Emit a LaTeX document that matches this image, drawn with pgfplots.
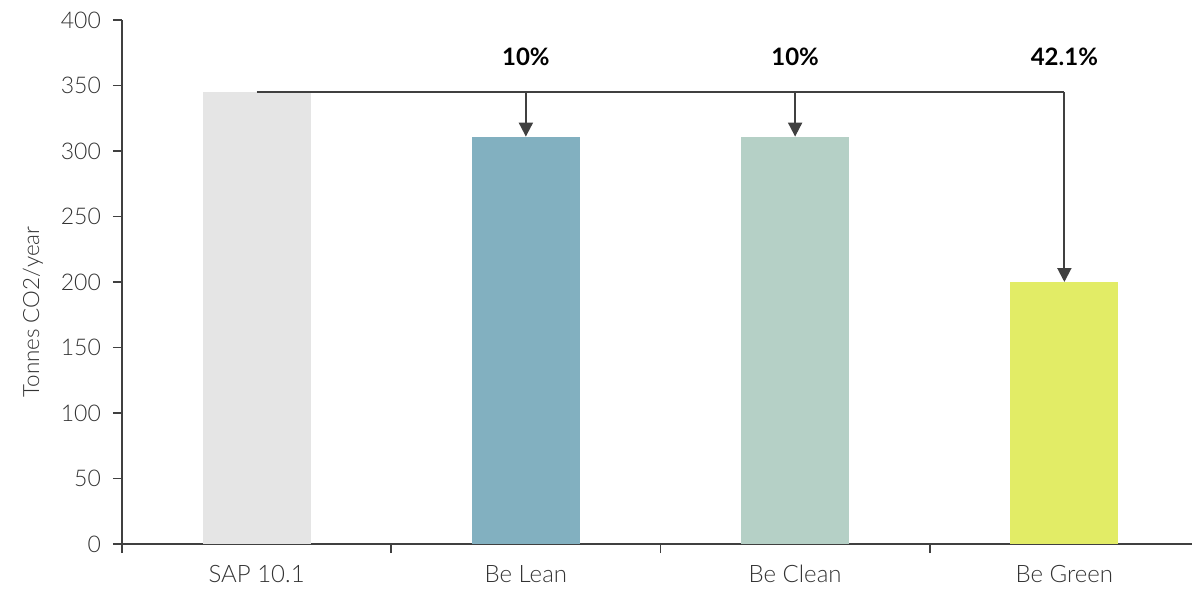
\documentclass[border=0pt]{standalone}
\usepackage{fontspec}
\setmainfont{Lato}[UprightFont={* Light}, BoldFont={* Bold}]
\usepackage{pgfplots}
\pgfplotsset{compat=1.18}
\usetikzlibrary{arrows.meta}

\definecolor{axiscol}{HTML}{404040}
\definecolor{textcol}{HTML}{333333}
\definecolor{sapgrey}{HTML}{E5E5E5}
\definecolor{leanblue}{HTML}{82B0C0}
\definecolor{cleangreen}{HTML}{B5D0C6}
\definecolor{greenyellow}{HTML}{E2EC66}

\begin{document}
\begin{tikzpicture}
\begin{axis}[
    scale only axis,
    width=538.5pt, height=262pt,
    xmin=0.5, xmax=4.5,
    ymin=0, ymax=400,
    ytick={0,50,...,400},
    xtick={0.5,1.5,2.5,3.5,4.5},
    xticklabels={SAP 10.1,Be Lean,Be Clean,Be Green},
    x tick label as interval,
    axis lines*=left,
    axis line style={axiscol, line width=0.9pt},
    tick align=outside,
    major tick length=4.5pt,
    tick style={axiscol, line width=0.9pt},
    xticklabel style={font=\fontsize{12}{14}\selectfont, text=textcol,
        text height=8.5pt, text depth=2pt, yshift=-2.5pt},
    yticklabel style={font=\fontsize{11.5}{13}\selectfont, text=textcol, xshift=-2.5pt},
    /pgf/number format/assume math mode=true,
    ylabel={Tonnes CO2/year},
    ylabel style={font=\fontsize{11.2}{13}\selectfont, text=textcol,
        at={(axis description cs:0,0.5)}, anchor=center, yshift=44.5pt, xshift=-15pt},
    ybar, bar width=54pt,
    clip=false,
]
\addplot[fill=sapgrey, draw=none, bar shift=0pt] coordinates {(1,345)};
\addplot[fill=leanblue, draw=none, bar shift=0pt] coordinates {(2,311)};
\addplot[fill=cleangreen, draw=none, bar shift=0pt] coordinates {(3,311)};
\addplot[fill=greenyellow, draw=none, bar shift=0pt] coordinates {(4,200)};

\draw[axiscol, line width=0.9pt] ([xshift=-3.5pt]axis cs:0.5,0) -- (axis cs:0.5,0);
\draw[axiscol, line width=1pt] (axis cs:1,345) -- (axis cs:4,345);
\draw[axiscol, line width=1pt, -{Triangle[width=7pt,length=7pt]}] (axis cs:2,345) -- (axis cs:2,311);
\draw[axiscol, line width=1pt, -{Triangle[width=7pt,length=7pt]}] (axis cs:3,345) -- (axis cs:3,311);
\draw[axiscol, line width=1pt, -{Triangle[width=7pt,length=7pt]}] (axis cs:4,345) -- (axis cs:4,200);
\node[font=\bfseries\fontsize{12}{14}\selectfont] at (axis cs:2,372) {10\%};
\node[font=\bfseries\fontsize{12}{14}\selectfont] at (axis cs:3,372) {10\%};
\node[font=\bfseries\fontsize{12}{14}\selectfont] at (axis cs:4,372) {42.1\%};
\end{axis}
\pgfresetboundingbox
\path ([shift={(-61pt,-23pt)}]current axis.south west) rectangle ([shift={(-3.5pt,10pt)}]current axis.north east);
\end{tikzpicture}
\end{document}
